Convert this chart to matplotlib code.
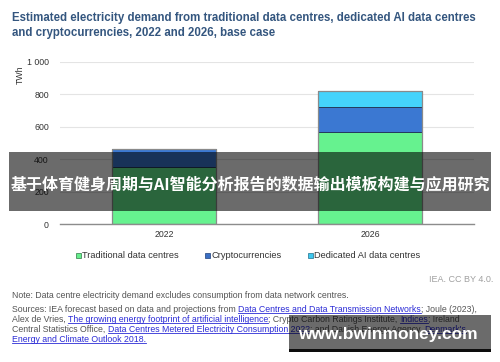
"""
Demanda eléctrica de centros de datos, criptomonedas e IA (2022 y 2026)
"""

import matplotlib.pyplot as plt
from matplotlib.patches import Rectangle
from matplotlib.lines import Line2D

# ── Datos ────────────────────────────────────────────────────────────────────
anios         = ["2022", "2026"]
tradicionales = [350, 570]
cripto        = [110, 155]
ia            = [0, 95]
ticks_y       = [0, 200, 400, 600, 800, 1000]
etiquetas_y   = ["0", "200", "400", "600", "800", "1 000"]
series        = ["Traditional data centres", "Cryptocurrencies", "Dedicated AI data centres"]

# ── Estilo ───────────────────────────────────────────────────────────────────
W, H = 500, 362
C_TRAD = "#66f28f"
C_CRIP = "#3b78d2"
C_IA   = "#45d3fb"
C_TIT  = "#34567f"
C_TXT  = "#555555"
C_LINK = "#2b2bd6"

plt.rcParams["font.family"] = ["Liberation Sans", "DejaVu Sans"]

fig = plt.figure(figsize=(W / 100, H / 100), dpi=100, facecolor="white")
ax = fig.add_axes([60 / W, (H - 224) / H, 414 / W, 162 / H])

x = list(range(len(anios)))
ancho = 0.505
base2 = [a + b for a, b in zip(tradicionales, cripto)]
ax.bar(x, tradicionales, width=ancho, color=C_TRAD, edgecolor="#3d4f66", linewidth=0.7, zorder=3)
ax.bar(x, cripto, width=ancho, bottom=tradicionales, color=C_CRIP, edgecolor="#243b5c",
       linewidth=0.7, zorder=3)
ax.bar(x, ia, width=ancho, bottom=base2, color=C_IA, edgecolor="#243b5c", linewidth=0.7, zorder=3)
# contorno gris de cada barra
totales = [a + b + c for a, b, c in zip(tradicionales, cripto, ia)]
ax.bar(x, totales, width=ancho, fill=False, edgecolor="#8a8a8a", linewidth=0.9, zorder=4)

ax.set_xlim(-0.505, 1.505)
ax.set_ylim(0, 1000)
ax.set_yticks(ticks_y)
ax.set_yticklabels(etiquetas_y)
ax.set_xticks(x)
ax.set_xticklabels(anios)
ax.tick_params(axis="both", length=0, labelsize=6.3, labelcolor="#333333")
ax.tick_params(axis="y", pad=8)
ax.tick_params(axis="x", pad=4)
ax.grid(axis="y", color="#e4e4e4", linewidth=0.8, zorder=0)
ax.set_axisbelow(True)
for lado in ["top", "right", "left"]:
    ax.spines[lado].set_visible(False)
ax.spines["bottom"].set_color("#8c8c8c")
ax.spines["bottom"].set_linewidth(1.0)
ax.spines["bottom"].set_zorder(5)

fig.text(20.5 / W, 1 - 75 / H, "TWh", rotation=90, fontsize=6.3, color="#333333",
         ha="center", va="center")

# ── Título ───────────────────────────────────────────────────────────────────
fig.text(12 / W, 1 - 18 / H, "Estimated electricity demand from traditional data centres, dedicated AI data centres",
         fontsize=8.3, fontweight="bold", color=C_TIT, va="center")
fig.text(12 / W, 1 - 33 / H, "and cryptocurrencies, 2022 and 2026, base case",
         fontsize=8.3, fontweight="bold", color=C_TIT, va="center")

# ── Leyenda ──────────────────────────────────────────────────────────────────
colores_ley = ["#66ee8c", "#3a6fc4", "#3cc8ef"]
bordes_ley  = ["#2f7a46", "#1f3f7a", "#1f6f8c"]
pos_ley     = [76, 205, 308]
for nombre, col, borde, px in zip(series, colores_ley, bordes_ley, pos_ley):
    fig.add_artist(Rectangle((px / W, 1 - 258 / H), 5 / W, 5 / H, transform=fig.transFigure,
                             facecolor=col, edgecolor=borde, linewidth=0.5))
    fig.text((px + 6.5) / W, 1 - 255.5 / H, nombre, fontsize=6.7, color="#333333", va="center")

fig.text(493 / W, 1 - 280 / H, "IEA. CC BY 4.0.", fontsize=6.5, color="#a0a0a0",
         ha="right", va="center")

# ── Notas y fuentes ──────────────────────────────────────────────────────────
renderer = fig.canvas.get_renderer()


def linea(y_px, partes):
    xp = 12
    for texto, enlace in partes:
        t = fig.text(xp / W, 1 - y_px / H, texto, fontsize=6.3,
                     color=C_LINK if enlace else C_TXT, va="center", ha="left")
        bb = t.get_window_extent(renderer)
        if enlace:
            fig.add_artist(Line2D([bb.x0 / W, bb.x1 / W], [(bb.y0 + 0.6) / H] * 2,
                                  transform=fig.transFigure, color=C_LINK, linewidth=0.6))
        xp = bb.x1


linea(296, [("Note: Data centre electricity demand excludes consumption from data network centres.", False)])
linea(309, [("Sources: IEA forecast based on data and projections from ", False),
            ("Data Centres and Data Transmission Networks", True),
            ("; Joule (2023),", False)])
linea(319, [("Alex de Vries, ", False),
            ("The growing energy footprint of artificial intelligence", True),
            ("; Crypto Carbon Ratings Institute, ", False),
            ("Indices", True),
            ("; Ireland", False)])
linea(329, [("Central Statistics Office, ", False),
            ("Data Centres Metered Electricity Consumption 2022", True),
            ("; and Danish Energy Agency, ", False),
            ("Denmark's", True)])
linea(339, [("Energy and Climate Outlook 2018.", True)])

# ── Superposiciones ──────────────────────────────────────────────────────────
fig.add_artist(Rectangle((9 / W, 1 - 211 / H), 482 / W, 59 / H, transform=fig.transFigure,
                         facecolor="black", alpha=0.58, edgecolor="none", zorder=10))
fig.text(250 / W, 1 - 184 / H, "基于体育健身周期与AI智能分析报告的数据输出模板构建与应用研究",
         family=["Noto Sans CJK SC", "DejaVu Sans"], fontsize=11.5, fontweight="bold",
         color="white", ha="center", va="center", zorder=11)

fig.add_artist(Rectangle((289 / W, 1 - 349 / H), 202 / W, 34 / H, transform=fig.transFigure,
                         facecolor="black", alpha=0.58, edgecolor="none", zorder=10))
fig.add_artist(Rectangle((289 / W, 1 - 352 / H), 202 / W, 3 / H, transform=fig.transFigure,
                         facecolor="black", alpha=0.95, edgecolor="none", zorder=10))
fig.text(388 / W, 1 - 335 / H, "www.bwinmoney.com", fontsize=12.5, fontweight="bold",
         color="white", ha="center", va="center", zorder=11)

fig.savefig("out.png", dpi=100, facecolor="white")
